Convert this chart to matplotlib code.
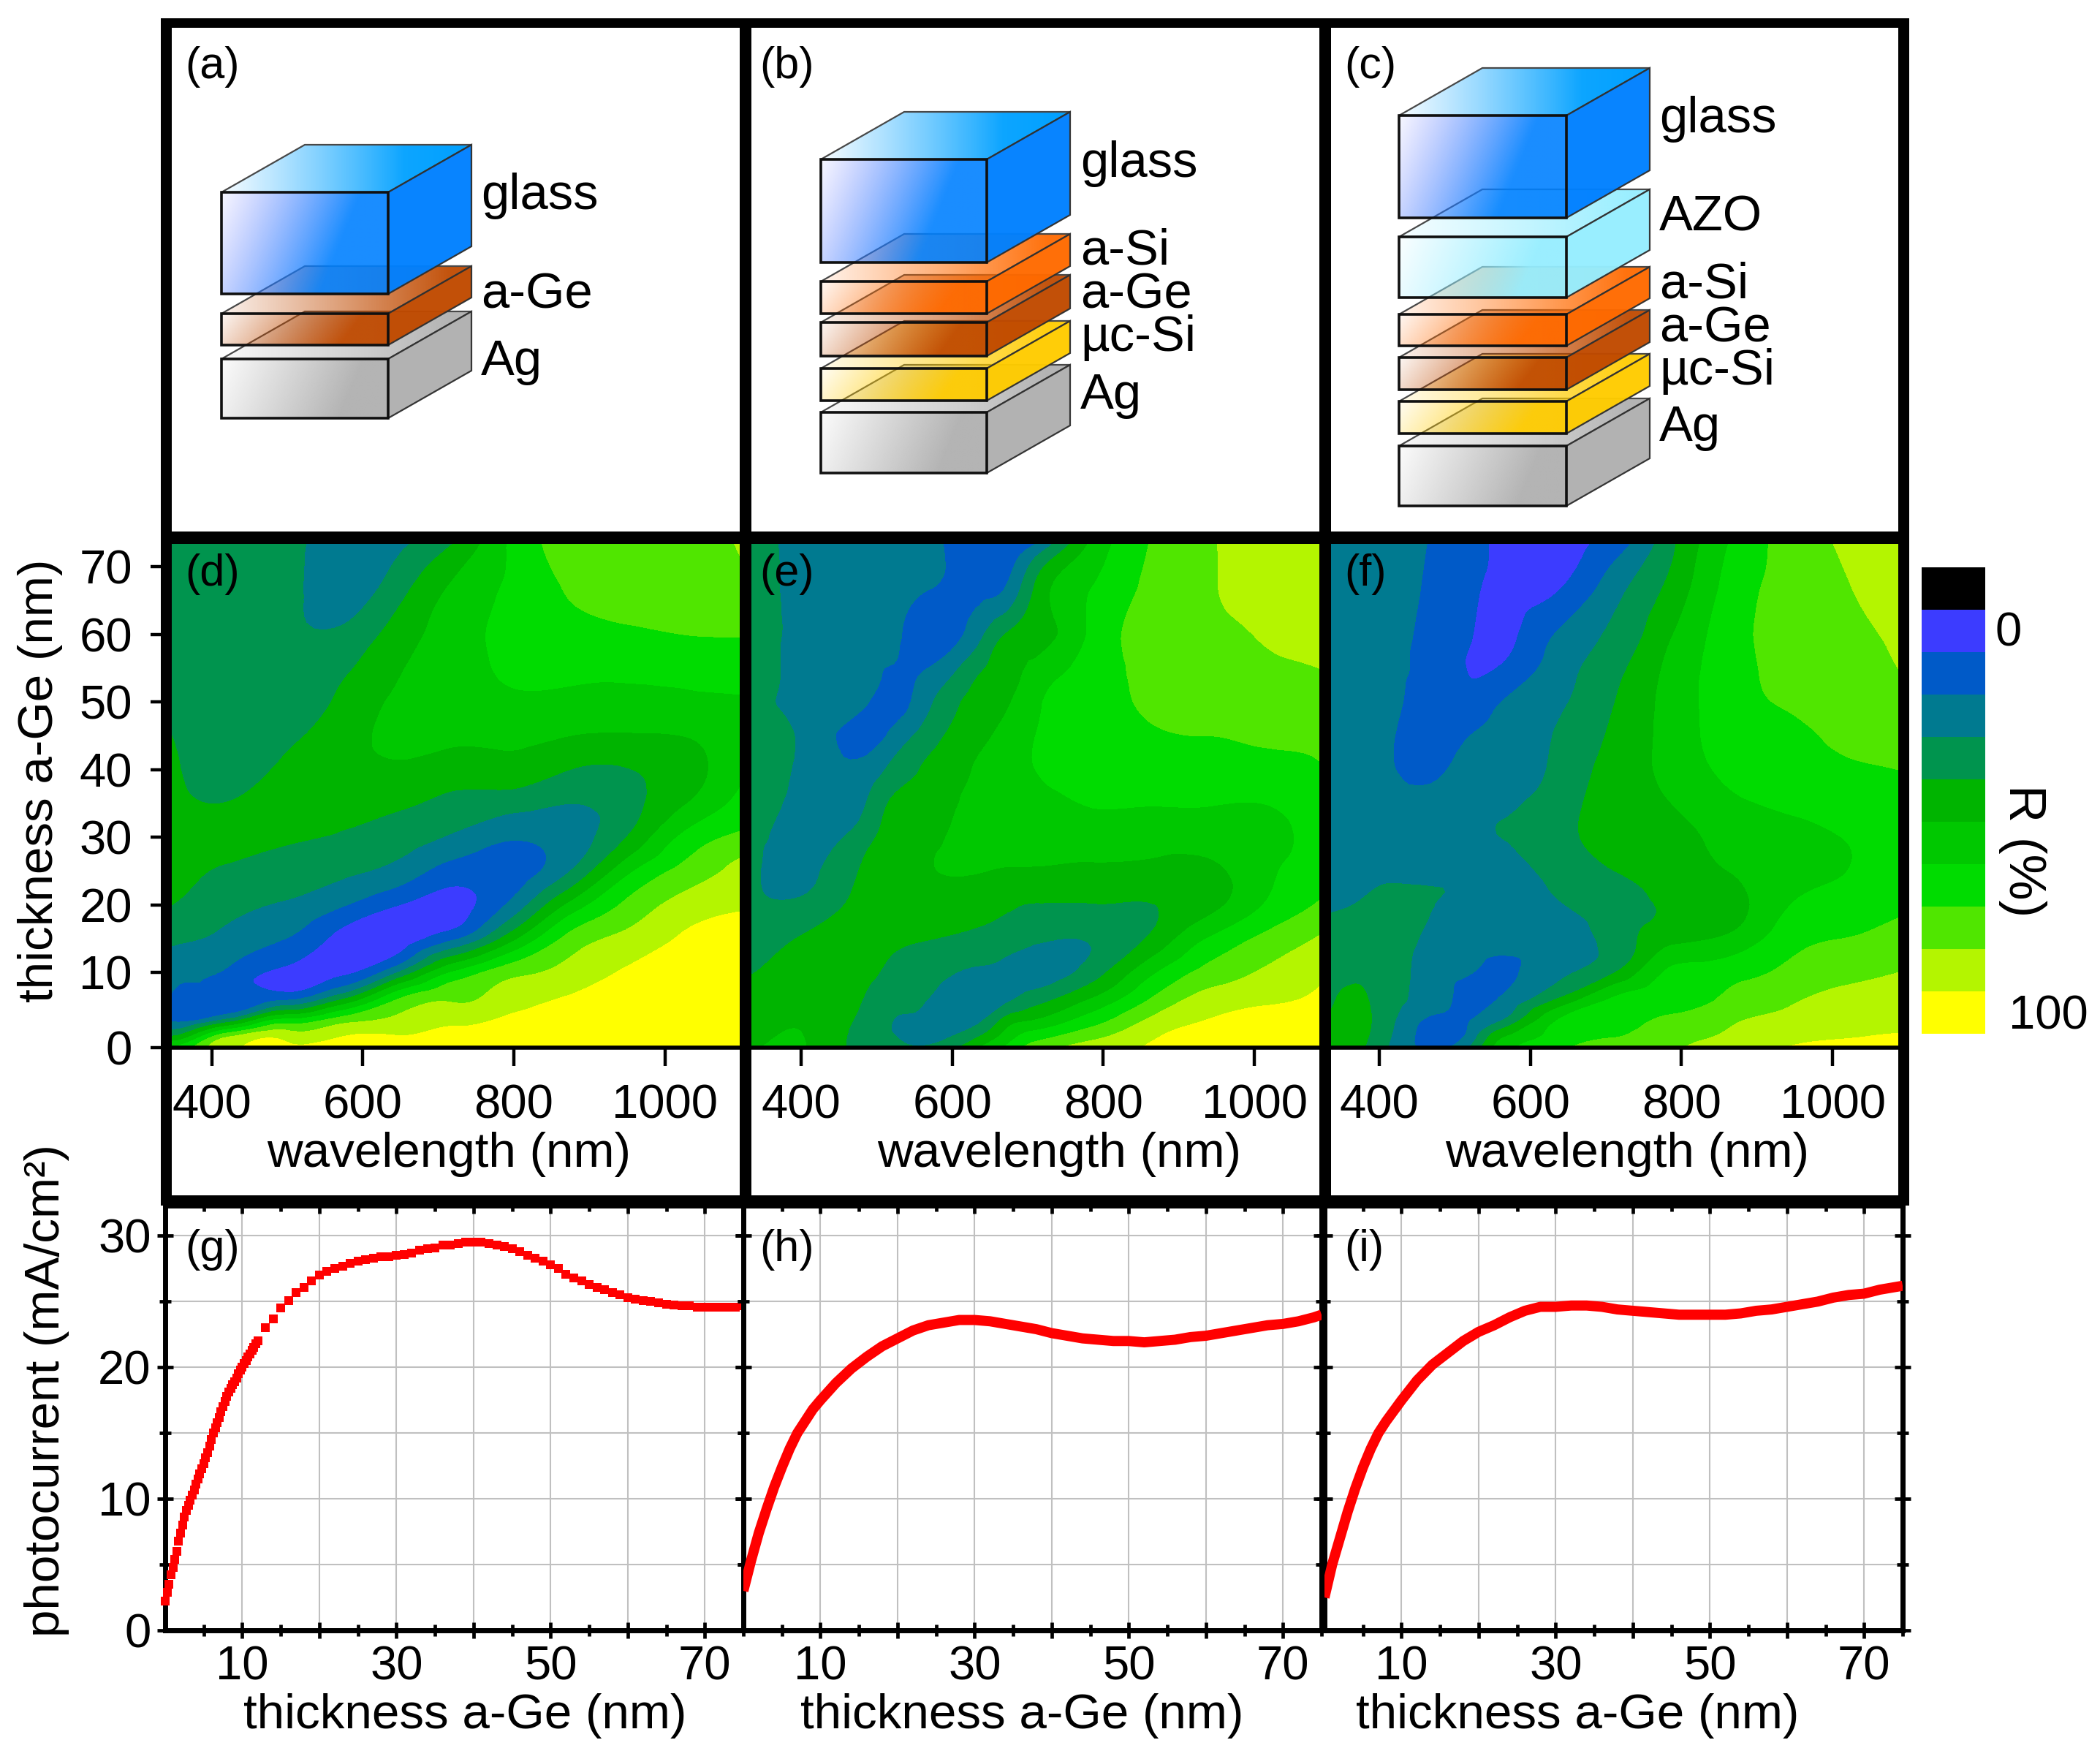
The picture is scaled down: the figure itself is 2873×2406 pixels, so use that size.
import numpy as np
import matplotlib
matplotlib.use("Agg")
import matplotlib.pyplot as plt
import matplotlib.tri as mtri
from matplotlib.colors import to_rgb, ListedColormap, BoundaryNorm
from matplotlib.patches import Polygon, Rectangle

plt.rcParams['font.family'] = ['Liberation Sans', 'DejaVu Sans']

W, H = 2873, 2406

# reflectance maps: thickness rows (top to bottom), one inner list per wavelength column
thickness_rows = [73.4, 67, 60, 55, 50, 45, 40, 35, 30, 25, 20, 15, 10, 6, 3, 1, -1.1]

wavelength_d = [347, 422, 497, 572, 648, 723, 798, 873, 949, 1024, 1099]
refl_d = [
    [35, 35, 36, 37, 38, 40, 42, 43, 45, 44, 40, 32, 24, 17, 18, 35, 62],
    [34, 34, 33, 33, 33, 34, 35, 40.5, 45, 38, 33, 27, 18, 15, 33, 72, 89],
    [33, 33, 32, 33, 34, 38, 42, 46, 42, 35, 29, 20, 7, 19, 62, 84, 93],
    [25, 25, 32, 38, 42, 45, 46, 43, 39, 32, 21, 6, 8, 40, 75, 88, 96],
    [28, 36, 45, 49, 52, 53, 48, 41.5, 35, 26, 10, 4, 31, 71, 82, 89, 96],
    [41, 52, 55, 56, 56, 52, 45, 37, 28, 15, 6, 19, 62, 79, 87, 93, 98],
    [62, 62, 64, 62, 58, 52, 46, 34, 21, 15, 23, 47, 77, 86, 92, 95, 98],
    [74, 71, 67, 63, 57, 50, 40, 30, 25, 29.5, 52, 73, 84, 91, 95, 97, 99],
    [76, 75, 68, 62, 57, 49, 39.5, 36, 40, 57, 72, 83, 91, 94, 97, 99, 100],
    [76, 76, 70, 63, 58, 50, 45, 49, 62, 73, 84, 91, 94, 96, 98, 100, 100],
    [80.5, 78, 70.5, 64, 59, 56, 58, 63, 72, 84, 89, 93, 95, 97, 98, 100, 100],
]

wavelength_e = [334, 409, 484, 522, 560, 635, 673, 710, 785, 860, 936, 1011, 1086]
refl_e = [
    [32, 32, 31.5, 31.5, 31.5, 31.5, 31.3, 31.2, 31.2, 31.5, 32, 35, 39.8, 42, 45, 47, 49],
    [27, 27, 27, 27, 27, 27, 27, 27, 27.5, 28, 33, 41.5, 44, 47, 49, 49.5, 49.8],
    [22, 22, 21.5, 21, 21, 16, 23.5, 29.5, 36, 41.5, 44, 44, 42, 39.5, 37, 35, 35],
    [22, 22, 21.5, 19.5, 16, 23, 33, 42, 45, 45, 46, 42, 38, 34, 30, 30, 33],
    [23, 21, 16, 19, 25, 33, 40.5, 44, 47, 48.5, 46, 40.5, 35, 31, 27, 25, 31],
    [13, 17, 27, 38, 44, 48, 51, 54, 56, 50.5, 44, 37, 28, 23, 28, 37, 50],
    [16, 21, 41, 45, 49, 53, 55, 56, 55, 49, 41.5, 34, 26, 28, 44, 53, 62],
    [20, 41, 45, 53, 58, 60, 60, 57, 53, 49, 39.5, 32, 24, 36, 50, 63, 75],
    [52, 60, 62, 64, 65, 64, 63, 60.5, 55, 48, 39.5, 31, 35, 51, 65, 75, 85],
    [70, 72, 74, 73, 72, 68, 65, 60.5, 54, 47, 39.5, 41, 57, 70, 81, 87, 91],
    [79, 79, 78, 76, 74, 70, 65, 60.5, 54, 47, 46, 60, 73, 84, 90, 94, 98],
    [83, 83, 80.5, 78, 74, 72, 65, 60, 56, 57, 60, 72, 81, 88, 94, 97, 100],
    [86, 85, 83, 80, 76, 73, 69, 66, 64, 66, 71, 81, 88, 92, 95, 97, 99],
]

wavelength_f = [336, 373, 411, 486, 524, 561, 636, 712, 787, 862, 937, 1012, 1087]
refl_f = [
    [27, 26.5, 26, 25.5, 25, 24.5, 24, 24, 25, 26, 29, 33, 37, 39, 41, 42, 43],
    [25.5, 25, 24.5, 24, 23.5, 23, 22.5, 22.5, 24, 27, 30.5, 35, 39, 41.5, 43, 43, 42],
    [24, 23.5, 23, 22, 22, 21, 21, 21, 23, 28, 32.5, 35, 36, 35, 33.5, 32, 30],
    [17, 16, 15, 14.5, 14, 16, 19.5, 24, 26, 29, 29.5, 26, 23, 22, 17, 14, 19],
    [12, 11, 10, 9, 14, 20.5, 26, 28, 29, 29, 28, 25, 20, 15, 20.5, 25, 33],
    [9, 8, 7, 11, 20, 23, 26, 29, 30, 28, 26, 24, 17, 21, 29, 45, 55],
    [8, 9, 21, 25, 28, 31, 32.5, 35, 36, 33, 29, 25, 28, 41, 60, 64, 68],
    [15, 26, 32.5, 37, 40, 42, 44, 45, 44, 40, 36, 34, 40, 62, 66, 69, 73],
    [38, 43, 49.5, 53, 54, 54, 53, 50, 46, 43, 41, 47, 62, 67, 72, 76, 79],
    [60, 63, 65, 65, 65, 64, 62, 58, 54, 50, 45, 52, 66, 72, 78, 81, 85],
    [73, 73, 74, 73, 71, 67, 65, 61, 58, 56, 59, 65, 72, 78, 83, 87, 90],
    [81, 79, 77, 75, 74, 72, 68, 64, 60, 59.5, 64, 70, 77, 83, 87, 89, 92],
    [87, 85, 82, 80, 76, 73, 70, 67, 66, 66, 68, 74, 80, 85, 88, 90, 92],
]

levels = [-10, 0, 10, 20, 30, 40, 50, 60, 70, 80, 90, 101]
band_colors = ['#000000', '#3c3cff', '#005ac8', '#007a90', '#00944e', '#00b400',
               '#00c800', '#00dc00', '#50e600', '#b4f500', '#ffff00']
cbar_values = [-5, 5, 15, 25, 35, 45, 55, 65, 75, 85, 95]

# photocurrent curves
thickness_g = [0, .25, .5, .75, 1, 1.25, 1.5, 1.75, 2, 2.25, 2.5, 2.75, 3, 3.25, 3.5, 3.75, 4, 4.25,
               4.5, 4.75, 5, 5.25, 5.5, 5.75, 6, 6.25, 6.5, 6.75, 7, 7.25, 7.5, 7.75, 8, 8.25, 8.5,
               8.75, 9, 9.25, 9.5, 9.75, 10, 10.25, 10.5, 10.75, 11, 11.25, 11.5, 11.75, 12] + list(range(13, 76))
current_g = [2.2, 2.9, 3.5, 4.2, 4.8, 5.4, 6, 6.8, 7.4, 8, 8.6, 9.1, 9.5, 9.9, 10.3, 10.7, 11.1, 11.5,
             11.9, 12.3, 12.7, 13.1, 13.5, 14, 14.5, 15, 15.4, 15.8, 16.2, 16.6, 17, 17.4, 17.8, 18.1,
             18.4, 18.7, 18.9, 19.2, 19.5, 19.8, 20, 20.3, 20.5, 20.8, 21, 21.3, 21.5, 21.8, 22,
             23, 23.7, 24.5, 25.1, 25.7, 26.1, 26.6, 27, 27.3, 27.5, 27.7, 27.9, 28.1, 28.2, 28.3,
             28.4, 28.4, 28.5, 28.6, 28.7, 28.9, 29, 29.1, 29.3, 29.3, 29.4, 29.5, 29.5, 29.5, 29.4,
             29.3, 29.2, 29, 28.8, 28.5, 28.3, 28.1, 27.8, 27.5, 27.1, 26.8, 26.6, 26.3, 26.1, 25.9,
             25.7, 25.5, 25.3, 25.2, 25.1, 25, 24.9, 24.8, 24.75, 24.7, 24.7, 24.6, 24.6, 24.6, 24.6,
             24.6, 24.6, 24.7]

thickness_hi = [0, 1, 2, 3, 4, 5, 6, 7, 8, 9, 10, 12, 14, 16, 18, 20, 22, 24, 26, 28, 30, 32, 34,
                36, 38, 40, 42, 44, 46, 48, 50, 52, 54, 56, 58, 60, 62, 64, 66, 68, 70, 72, 74, 75]
current_h = [3, 5.3, 7.4, 9.2, 10.9, 12.4, 13.8, 15, 15.9, 16.8, 17.5, 18.8, 19.9, 20.8, 21.6, 22.2,
             22.8, 23.2, 23.4, 23.6, 23.6, 23.5, 23.3, 23.1, 22.9, 22.6, 22.4, 22.2, 22.1, 22, 22,
             21.9, 22, 22.1, 22.3, 22.4, 22.6, 22.8, 23, 23.2, 23.3, 23.5, 23.8, 24]
current_i = [2.5, 5, 7, 9, 10.8, 12.4, 13.8, 15, 15.9, 16.7, 17.5, 19, 20.2, 21.1, 22, 22.7, 23.2,
             23.8, 24.3, 24.6, 24.6, 24.7, 24.7, 24.6, 24.4, 24.3, 24.2, 24.1, 24, 24, 24, 24, 24.1,
             24.3, 24.4, 24.6, 24.8, 25, 25.3, 25.5, 25.6, 25.9, 26.1, 26.2]

map_ticks = [400, 600, 800, 1000]
map_yticks = [-1.1, 10, 20, 30, 40, 50, 60, 70]
map_ylabels = ['0', '10', '20', '30', '40', '50', '60', '70']
cur_ticks = [10, 20, 30, 40, 50, 60, 70]
cur_labels = ['10', '', '30', '', '50', '', '70']

# layer stacks of the schematics: (name, top of front face, bottom of front face)
stack_a = [('glass', 263, 402), ('a-Ge', 429, 472), ('Ag', 491, 572)]
stack_b = [('glass', 218, 359), ('a-Si', 385, 429), ('a-Ge', 441, 487), ('uc', 504, 548), ('Ag', 564, 647)]
stack_c = [('glass', 158, 298), ('AZO', 324, 407), ('a-Si', 430, 473), ('a-Ge', 489, 533),
           ('uc', 549, 593), ('Ag', 610, 692)]
layer_colors = {'glass': '#0080ff', 'AZO': '#96eeff', 'a-Si': '#ff6a00', 'a-Ge': '#c04a00',
                'uc': '#ffcc00', 'Ag': '#b0b0b0'}

FS = 47
LABEL_FS = 48.5


def ax_px(x0, y0, x1, y1, **kw):
    return fig.add_axes([x0 / W, 1 - y1 / H, (x1 - x0) / W, (y1 - y0) / H], **kw)


def face(ov, corners, rgb0, rgb1, ramp, mix, z):
    # gradient filled polygon, ramp is the alpha image over the bounding box
    corners = np.array(corners, float)
    x0, y0 = corners.min(axis=0)
    x1, y1 = corners.max(axis=0)
    img = np.zeros(ramp.shape + (4,))
    c0, c1 = np.array(to_rgb(rgb0)), np.array(to_rgb(rgb1))
    img[..., :3] = c0 + (c1 - c0) * mix[..., None]
    img[..., 3] = ramp
    im = ov.imshow(img, extent=[x0, x1, y1, y0], aspect='auto', zorder=z, interpolation='bilinear')
    poly = Polygon(corners, closed=True, transform=ov.transData, fc='none', ec='none')
    ov.add_patch(poly)
    im.set_clip_path(poly)


def draw_stack(ov, stack, x0, x1, z):
    dx, dy = 114, -65
    uu, vv = np.meshgrid(np.linspace(0, 1, 80), np.linspace(0, 1, 80))
    for name, top, bot in reversed(stack):
        c = layer_colors[name]
        tp = [(x0, top), (x1, top), (x1 + dx, top + dy), (x0 + dx, top + dy)]
        sd = [(x1, top), (x1 + dx, top + dy), (x1 + dx, bot + dy), (x1, bot)]
        fr = [(x0, top), (x1, top), (x1, bot), (x0, bot)]
        if name == 'glass':
            # the glass block runs through violet and cyan tints before its full blue
            face(ov, tp, '#30b4ff', '#00a0ff', np.clip(0.05 + uu * 1.3, 0, 1), uu, z)
            front_c = '#5a6cff'
            front_ramp = np.clip(0.06 + (uu + 0.25 * vv) * 1.0, 0, 0.9)
            front_mix = np.clip((uu + 0.25 * vv) * 1.35 - 0.1, 0, 1)
        else:
            face(ov, tp, c, c, np.clip(0.08 + uu * 0.95, 0, 0.95), uu, z)
            front_c = c
            front_ramp = np.clip(0.05 + (uu + 0.15 * vv) * 1.05, 0, 0.95)
            front_mix = uu
        ov.add_patch(Polygon(tp, closed=True, fc='none', ec='#484848', lw=1.6, zorder=z + .1))
        ov.add_patch(Polygon(sd, closed=True, fc=c, ec='#303030', lw=1.6, alpha=.97, zorder=z + .2))
        face(ov, fr, front_c, c, front_ramp, front_mix, z + .3)
        ov.add_patch(Polygon(fr, closed=True, fc='none', ec='#101010', lw=2.6, zorder=z + .4))
        z += 1
    return z


def draw_map(box, wl, refl, xlim):
    ax = ax_px(*box)
    yy = np.array(thickness_rows)
    X, Y = np.meshgrid(wl, yy)
    Z = np.array(refl, float).T
    # smooth the read-off grid with matplotlib's own triangular refiner
    tri = mtri.Triangulation(X.ravel(), Y.ravel() * 10)
    interp = mtri.CubicTriInterpolator(tri, Z.ravel(), kind='min_E')
    tri_fine, z_fine = mtri.UniformTriRefiner(tri).refine_field(Z.ravel(), triinterpolator=interp, subdiv=3)
    tri_plot = mtri.Triangulation(tri_fine.x, tri_fine.y / 10, tri_fine.triangles)
    ax.tricontourf(tri_plot, np.clip(z_fine, -5, 100), levels=levels, colors=band_colors)
    ax.set_xlim(*xlim)
    ax.set_ylim(-1.1, 73.4)
    ax.set_xticks(map_ticks)
    ax.tick_params(axis='x', length=18, width=3.2, labelsize=FS, pad=18)
    for s in ['top', 'left', 'right']:
        ax.spines[s].set_visible(False)
    ax.spines['bottom'].set_linewidth(4)
    return ax


def draw_current(box, x, y, marker, ylab):
    ax = ax_px(*box)
    ax.set_axisbelow(True)
    ax.set_xlim(0, 75)
    ax.set_ylim(0, 32.3)
    ax.set_xticks(cur_ticks)
    ax.set_xticklabels(cur_labels)
    ax.set_xticks([5, 15, 25, 35, 45, 55, 65, 75], minor=True)
    ax.set_yticks([0, 10, 20, 30])
    ax.set_yticks([5, 15, 25], minor=True)
    ax.grid(True, which='major', color='#c0c0c0', lw=1.5)
    ax.grid(True, which='minor', axis='y', color='#c0c0c0', lw=1.5)
    if marker:
        ax.plot(x, y, 's', color='#ff0000', ms=8.6, mew=0, clip_on=False, zorder=5)
    else:
        ax.plot(x, y, '-', color='#ff0000', lw=10, solid_capstyle='butt', zorder=5)
    ax.tick_params(axis='both', which='major', direction='inout', length=16, width=3.4,
                   top=True, right=True, labelsize=FS, pad=6)
    ax.tick_params(axis='both', which='minor', direction='inout', length=11, width=3.4,
                   top=True, right=True)
    ax.tick_params(axis='x', which='major', pad=7)
    if ylab:
        ax.set_yticklabels(['0', '10', '20', '30'])
    else:
        ax.tick_params(axis='y', labelleft=False)
    for s in ax.spines.values():
        s.set_linewidth(5)
    return ax


fig = plt.figure(figsize=(W / 100, H / 100), dpi=100)

ax_d = draw_map((235, 744, 1012, 1433), wavelength_d, refl_d, (347, 1099))
ax_e = draw_map((1028, 744, 1805, 1433), wavelength_e, refl_e, (334, 1086))
ax_f = draw_map((1821, 744, 2597, 1433), wavelength_f, refl_f, (336, 1087))
ax_d.set_yticks(map_yticks)
ax_d.set_yticklabels(map_ylabels)
ax_d.tick_params(axis='y', length=21, width=3.2, labelsize=FS, pad=18)
ax_e.set_yticks([])
ax_f.set_yticks([])

ax_g = draw_current((226, 1649, 1017, 2230), thickness_g, current_g, True, True)
ax_h = draw_current((1017, 1649, 1808, 2230), thickness_hi, current_h, False, False)
ax_i = draw_current((1812, 1649, 2603, 2230), thickness_hi, current_i, False, False)

# colour scale
ax_cb = ax_px(2629, 776, 2716, 1414)
ax_cb.pcolormesh([0, 1], np.arange(len(cbar_values) + 1), np.array(cbar_values)[:, None],
                 cmap=ListedColormap(band_colors), norm=BoundaryNorm(levels, 11))
ax_cb.set_ylim(11, 0)
ax_cb.axis('off')

# everything that sits on top in pixel coordinates: frame, schematics, labels
ov = fig.add_axes([0, 0, 1, 1], zorder=10)
ov.set_xlim(0, W)
ov.set_ylim(H, 0)
ov.axis('off')
ov.patch.set_alpha(0)

for x0, x1 in [(220, 235), (1012, 1028), (1805, 1821), (2597, 2612)]:
    ov.add_patch(Rectangle((x0, 25), x1 - x0, 1624, fc='k', ec='none', zorder=20))
for y0, y1 in [(25, 38), (727, 744), (1635, 1649)]:
    ov.add_patch(Rectangle((220, y0), 2392, y1 - y0, fc='k', ec='none', zorder=20))

z = 30
z = draw_stack(ov, stack_a, 303, 531, z)
z = draw_stack(ov, stack_b, 1123, 1350, z)
z = draw_stack(ov, stack_c, 1914, 2143, z)
ov.set_xlim(0, W)
ov.set_ylim(H, 0)

for txt, x, y in [('(a)', 253, 91), ('(b)', 1039, 91), ('(c)', 1839, 91),
                  ('(d)', 253, 786), ('(e)', 1039, 786), ('(f)', 1839, 786),
                  ('(g)', 253, 1709), ('(h)', 1039, 1709), ('(i)', 1839, 1709)]:
    ov.text(x, y, txt, fontsize=44, ha='left', va='center', zorder=90)

for txt, x, y in [('glass', 658, 268), ('a-Ge', 658, 403), ('Ag', 658, 495),
                  ('glass', 1478, 224), ('a-Si', 1478, 343), ('a-Ge', 1478, 403),
                  ('µc-Si', 1478, 462), ('Ag', 1478, 541),
                  ('glass', 2270, 163), ('AZO', 2270, 297), ('a-Si', 2270, 389),
                  ('a-Ge', 2270, 449), ('µc-Si', 2270, 508), ('Ag', 2270, 585)]:
    ov.text(x, y, txt, fontsize=49.5, ha='left', va='center', zorder=90)

for x in [614, 1449, 2226]:
    ov.text(x, 1579, 'wavelength (nm)', fontsize=LABEL_FS, ha='center', va='center', zorder=90)
for x in [636, 1398, 2158]:
    ov.text(x, 2347, 'thickness a-Ge (nm)', fontsize=LABEL_FS, ha='center', va='center', zorder=90)

ov.text(55, 1068, 'thickness a-Ge (nm)', fontsize=LABEL_FS, rotation=90, ha='center', va='center', zorder=90)
ov.text(64, 1902, 'photocurrent (mA/cm²)', fontsize=LABEL_FS, rotation=90, ha='center', va='center', zorder=90)
ov.text(2748, 867, '0', fontsize=FS, ha='center', va='center', zorder=90)
ov.text(2802, 1390, '100', fontsize=FS, ha='center', va='center', zorder=90)
ov.text(2767, 1164, 'R (%)', fontsize=51, rotation=270, ha='center', va='center', zorder=90)

fig.savefig('out.png', dpi=100)
